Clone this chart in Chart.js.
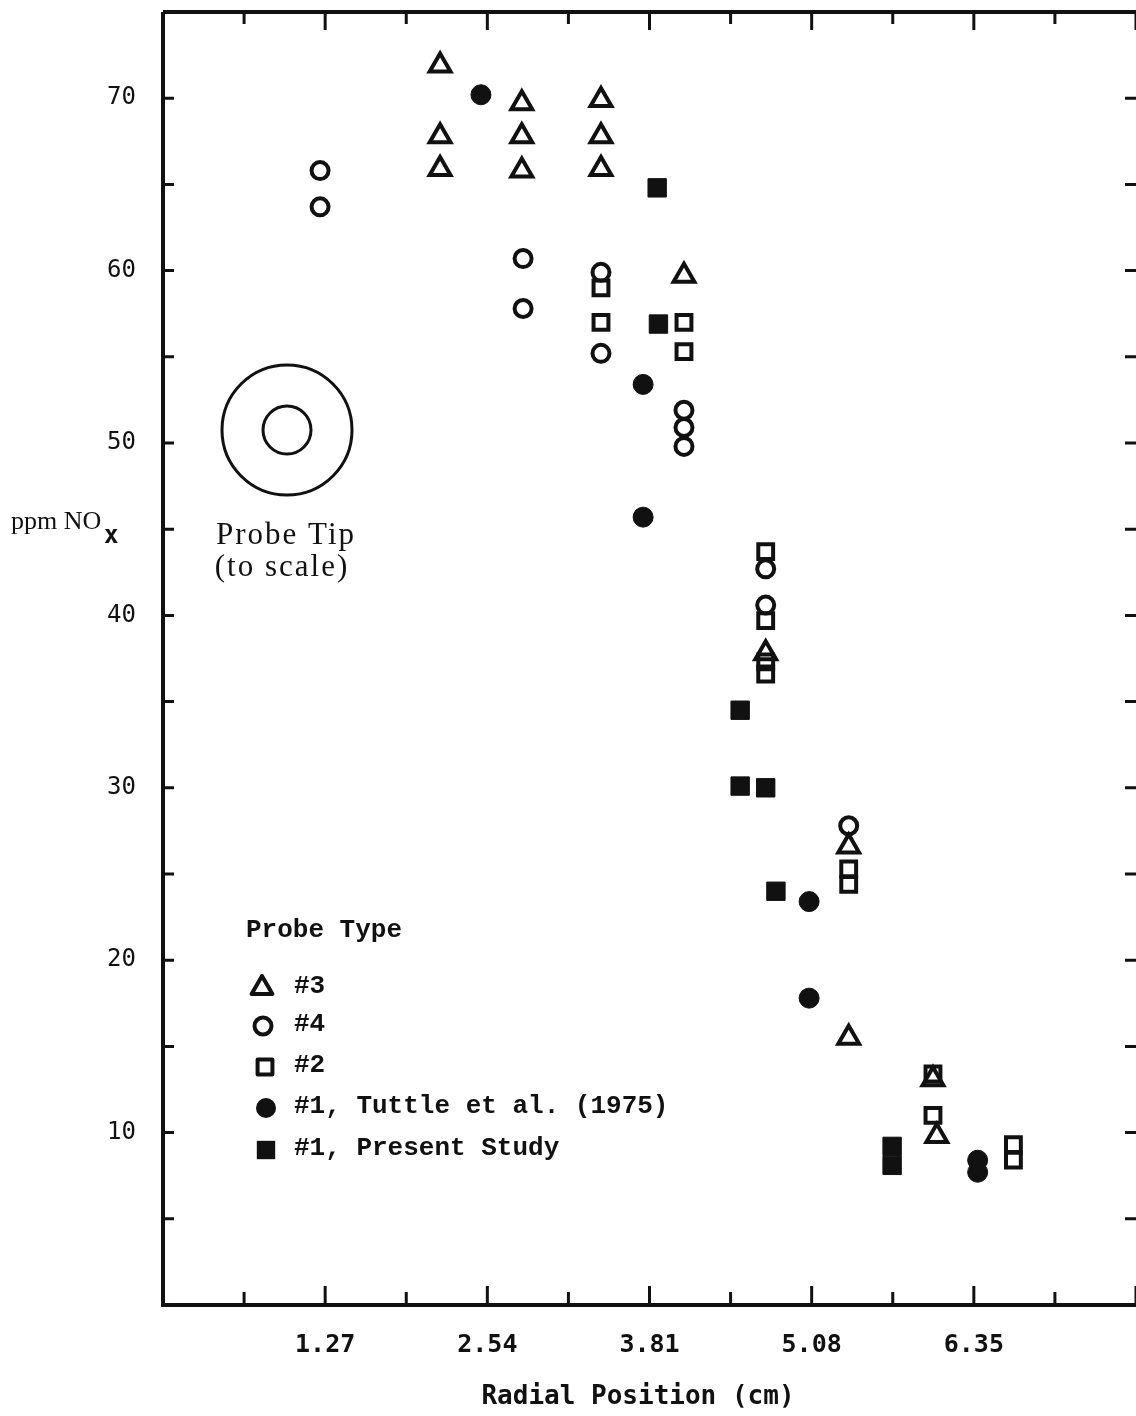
<!DOCTYPE html>
<html>
<head>
<meta charset="utf-8">
<script src="https://cdn.jsdelivr.net/npm/chart.js@4.4.1/dist/chart.umd.min.js"></script>
<style>
  html, body { margin: 0; padding: 0; background: #ffffff; overflow: hidden; }
  #wrap { width: 1136px; height: 1416px; position: relative; }
</style>
</head>
<body>
<div id="wrap"><canvas id="noxChart"></canvas></div>
<script>
// Tick values and labels for the radial position axis (cm)
const xTickValues = [0, 0.635, 1.27, 1.905, 2.54, 3.175, 3.81, 4.445, 5.08, 5.715, 6.35, 6.985, 7.62];
const xTickLabels = ["", "", "1.27", "", "2.54", "", "3.81", "", "5.08", "", "6.35", "", ""];
const yTickLabels = ["", "", "10", "", "20", "", "30", "", "40", "", "50", "", "60", "", "70", ""];

// Probe #3 (open triangles)
const probe3X = [2.17, 2.17, 2.17, 2.81, 2.81, 2.81, 3.43, 3.43, 3.43, 4.08, 4.72, 5.37, 5.37, 6.03, 6.06];
const probe3Y = [71.9, 67.8, 65.9, 69.7, 67.8, 65.8, 69.9, 67.8, 65.9, 59.7, 37.8, 26.6, 15.5, 13.1, 9.8];

// Probe #4 (open circles)
const probe4X = [1.23, 1.23, 2.82, 2.82, 3.43, 3.43, 4.08, 4.08, 4.08, 4.72, 4.72, 5.37];
const probe4Y = [65.8, 63.7, 60.7, 57.8, 59.9, 55.2, 51.9, 50.9, 49.8, 42.7, 40.6, 27.8];

// Probe #2 (open squares)
const probe2X = [3.43, 3.43, 4.08, 4.08, 4.72, 4.72, 4.72, 4.72, 5.37, 5.37, 6.03, 6.03, 6.66, 6.66];
const probe2Y = [59.0, 57.0, 57.0, 55.3, 43.7, 39.7, 37.3, 36.6, 25.3, 24.4, 13.4, 11.0, 9.3, 8.4];

// Probe #1, Tuttle et al. (1975) (filled circles)
const tuttleX = [2.49, 3.76, 3.76, 5.06, 5.06, 6.38, 6.38];
const tuttleY = [70.2, 53.4, 45.7, 23.4, 17.8, 8.4, 7.7];

// Probe #1, Present Study (filled squares)
const presentX = [3.87, 3.88, 4.52, 4.52, 4.72, 4.80, 5.71, 5.71];
const presentY = [64.8, 56.9, 34.5, 30.1, 30.0, 24.0, 9.2, 8.1];

const ink = "#111111";
const toPoints = (xs, ys) => xs.map((x, i) => ({ x: x, y: ys[i] }));

const datasets = [
  { label: "#3", data: toPoints(probe3X, probe3Y), pointStyle: "triangle", pointRadius: 12, pointBorderWidth: 4, pointBackgroundColor: "rgba(0,0,0,0)", pointBorderColor: ink },
  { label: "#4", data: toPoints(probe4X, probe4Y), pointStyle: "circle", pointRadius: 8.5, pointBorderWidth: 4, pointBackgroundColor: "rgba(0,0,0,0)", pointBorderColor: ink },
  { label: "#2", data: toPoints(probe2X, probe2Y), pointStyle: "rect", pointRadius: 10.5, pointBorderWidth: 4, pointBackgroundColor: "rgba(0,0,0,0)", pointBorderColor: ink },
  { label: "#1, Tuttle et al. (1975)", data: toPoints(tuttleX, tuttleY), pointStyle: "circle", pointRadius: 10, pointBorderWidth: 1, pointBackgroundColor: ink, pointBorderColor: ink },
  { label: "#1, Present Study", data: toPoints(presentX, presentY), pointStyle: "rect", pointRadius: 13, pointBorderWidth: 1, pointBackgroundColor: ink, pointBorderColor: ink },
];

// small marker painter for the hand-placed legend
function marker(ctx, style, filled, x, y, r) {
  ctx.save();
  ctx.strokeStyle = ink;
  ctx.fillStyle = ink;
  ctx.lineWidth = 4;
  ctx.lineJoin = "round";
  ctx.beginPath();
  if (style === "triangle") {
    ctx.moveTo(x, y - r);
    ctx.lineTo(x + r * 0.866, y + r / 2);
    ctx.lineTo(x - r * 0.866, y + r / 2);
    ctx.closePath();
  } else if (style === "circle") {
    ctx.arc(x, y, r, 0, Math.PI * 2);
  } else {
    const s = r * Math.SQRT1_2;
    ctx.rect(x - s, y - s, 2 * s, 2 * s);
  }
  filled ? ctx.fill() : ctx.stroke();
  ctx.restore();
}

const framePlugin = {
  id: "frame",
  afterDraw(chart) {
    const ctx = chart.ctx;
    const a = chart.chartArea;
    const xs = chart.scales.x;
    const ys = chart.scales.y;
    ctx.save();
    ctx.strokeStyle = ink;
    ctx.lineCap = "butt";

    // axis frame (left, bottom, top)
    ctx.lineWidth = 4;
    ctx.beginPath();
    ctx.moveTo(a.left, a.top);
    ctx.lineTo(a.left, a.bottom);
    ctx.lineTo(a.right, a.bottom);
    ctx.moveTo(a.left, a.top);
    ctx.lineTo(a.right, a.top);
    ctx.stroke();

    // inward ticks
    ctx.lineWidth = 3;
    ctx.beginPath();
    xs.ticks.forEach((t, i) => {
      const px = xs.getPixelForValue(t.value);
      const major = i % 2 === 0;
      ctx.moveTo(px, a.bottom);
      ctx.lineTo(px, a.bottom - (major ? 19 : 13));
      ctx.moveTo(px, a.top);
      ctx.lineTo(px, a.top + (major ? 18 : 12));
    });
    ys.ticks.forEach((t) => {
      const py = ys.getPixelForValue(t.value);
      ctx.moveTo(a.left, py);
      ctx.lineTo(a.left + 11, py);
      ctx.moveTo(a.right, py);
      ctx.lineTo(a.right - 11, py);
    });
    ctx.stroke();

    ctx.fillStyle = ink;
    ctx.textBaseline = "middle";

    // y axis label
    ctx.font = "26px 'Liberation Serif', serif";
    ctx.textAlign = "left";
    ctx.fillText("ppm NO", 11, 522);
    ctx.font = "bold 24px 'DejaVu Sans Mono', monospace";
    ctx.fillText("x", 104, 537);

    // x axis title
    ctx.font = "bold 26px 'DejaVu Sans Mono', monospace";
    ctx.textAlign = "center";
    ctx.fillText("Radial Position (cm)", 638, 1397);

    // probe tip drawing
    ctx.lineWidth = 3;
    ctx.beginPath();
    ctx.arc(287, 430, 65, 0, Math.PI * 2);
    ctx.stroke();
    ctx.beginPath();
    ctx.arc(287, 430, 24, 0, Math.PI * 2);
    ctx.stroke();
    ctx.font = "31px 'Liberation Serif', serif";
    ctx.letterSpacing = "2px";
    ctx.fillText("Probe Tip", 286, 536);
    ctx.fillText("(to scale)", 282, 568);
    ctx.letterSpacing = "0px";

    // legend
    ctx.textAlign = "left";
    ctx.font = "bold 26px 'Liberation Mono', monospace";
    ctx.fillText("Probe Type", 246, 930);
    const rows = [
      { style: "triangle", filled: false, r: 12, y: 988, mx: 262 },
      { style: "circle", filled: false, r: 8.5, y: 1026, mx: 263 },
      { style: "rect", filled: false, r: 10.5, y: 1067, mx: 265 },
      { style: "circle", filled: true, r: 10, y: 1108, mx: 266 },
      { style: "rect", filled: true, r: 13, y: 1150, mx: 266 },
    ];
    rows.forEach((row, i) => {
      marker(ctx, row.style, row.filled, row.mx, row.y, row.r);
      ctx.fillText(datasets[i].label, 294, row.y - 2);
    });
    ctx.restore();
  },
};

const config = {
  type: "scatter",
  data: { datasets: datasets },
  options: {
    responsive: true,
    maintainAspectRatio: false,
    animation: false,
    layout: { autoPadding: false, padding: { top: 12, right: 0, left: 0, bottom: 0 } },
    scales: {
      x: {
        type: "linear",
        min: 0,
        max: 7.62,
        afterFit: (s) => { s.height = 111; s.paddingLeft = 0; s.paddingRight = 0; },
        afterBuildTicks: (s) => { s.ticks = xTickValues.map((v) => ({ value: v })); },
        grid: { display: false, drawTicks: false },
        border: { display: false },
        ticks: {
          autoSkip: false,
          maxRotation: 0,
          padding: 25,
          color: ink,
          font: { family: "'DejaVu Sans Mono', monospace", size: 25, weight: "bold" },
          callback: (v, i) => xTickLabels[i],
        },
      },
      y: {
        min: 0,
        max: 75,
        afterFit: (s) => { s.width = 163; s.paddingTop = 0; s.paddingBottom = 0; },
        grid: { display: false, drawTicks: false },
        border: { display: false },
        ticks: {
          stepSize: 5,
          autoSkip: false,
          padding: 27,
          color: ink,
          font: { family: "'DejaVu Sans Mono', monospace", size: 24, weight: "normal" },
          callback: (v, i) => yTickLabels[i],
        },
      },
    },
    plugins: {
      legend: { display: false },
      tooltip: { enabled: false },
    },
  },
  plugins: [framePlugin],
};

const noxChart = new Chart(document.getElementById("noxChart"), config);
</script>
</body>
</html>
